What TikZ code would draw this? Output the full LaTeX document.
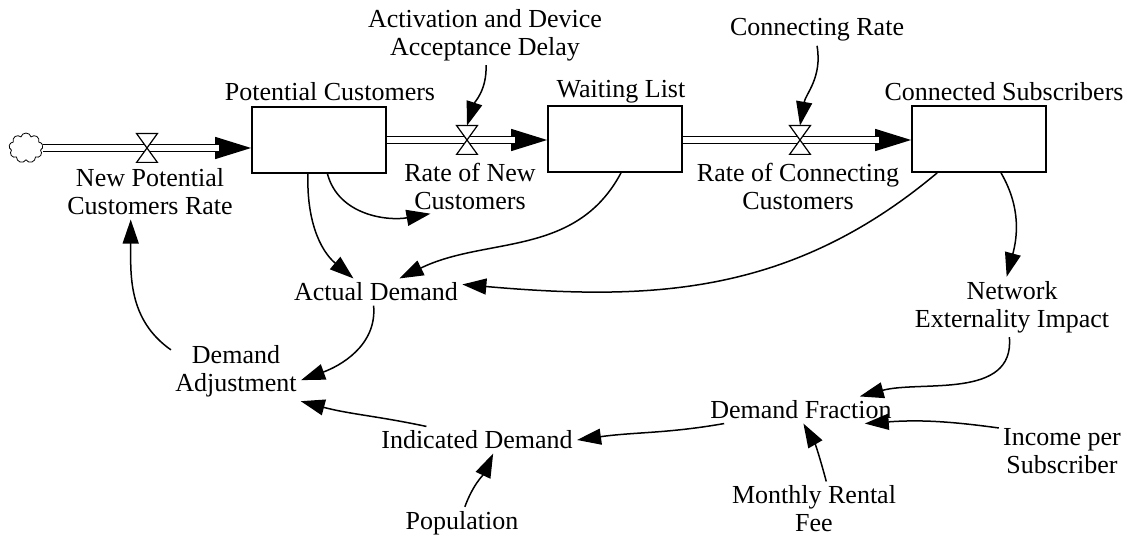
\documentclass[tikz,border=0pt]{standalone}
\usepackage{fontspec}
\setmainfont{Liberation Serif}
\usetikzlibrary{arrows.meta,shapes.symbols}
\begin{document}
\begin{tikzpicture}[x=0.5pt,y=0.5pt,
 lbl/.style={font=\fontsize{13}{14}\selectfont, align=center, inner sep=2pt},
 stock/.style={draw, line width=0.9pt, minimum width=67pt, minimum height=33pt, inner sep=0pt},
 valvenode/.style={minimum width=10pt, minimum height=14pt, inner sep=0pt},
 valveshape/.style={draw, fill=white, line width=0.6pt},
 pipe/.style={draw, line width=0.7pt, double=white, double distance=2.6pt},
 flowtip/.style={line width=0.7pt, -{Triangle[length=18pt,width=11pt]}},
 link/.style={line width=0.75pt, -{Triangle[length=12pt,width=8pt]}},
 cloudnode/.style={cloud, cloud puffs=9, aspect=1.15, draw, line width=0.4pt, minimum width=17pt, minimum height=15pt, inner sep=0pt}
]
\useasboundingbox (0,0) rectangle (1127,-544);

% stocks
\node[cloudnode] (src) at (26,-148) {};
\node[stock] (PC) at (319,-140) {};
\node[stock] (WL) at (615,-139) {};
\node[stock] (CS) at (979,-139) {};
\node[lbl] (PCl) at (330,-92) {Potential Customers};
\node[lbl] (WLl) at (621,-92) {Waiting List};
\node[lbl] (CSl) at (1004,-92) {Connected Subscribers};

% valves
\node[valvenode] (v1) at (147,-148) {};
\node[valvenode] (v2) at (467,-140) {};
\node[valvenode] (v3) at (800,-140) {};

% labels
\node[lbl] (NPCR) at (150,-192) {New Potential\\Customers Rate};
\node[lbl] (RNC) at (470,-186) {Rate of New\\Customers};
\node[lbl] (RCC) at (798,-186) {Rate of Connecting\\Customers};
\node[lbl] (ADelay) at (485,-35) {Activation and Device\\Acceptance Delay};
\node[lbl] (CRate) at (817,-30) {Connecting Rate};
\node[lbl] (AD) at (376,-292) {Actual Demand};
\node[lbl] (NEI) at (1012,-307) {Network\\Externality Impact};
\node[lbl] (DA) at (236,-371) {Demand\\Adjustment};
\node[lbl] (DF) at (801,-410) {Demand Fraction};
\node[lbl] (ID) at (477,-440) {Indicated Demand};
\node[lbl] (IPS) at (1062,-451) {Income per\\Subscriber};
\node[lbl] (MRF) at (814,-509) {Monthly Rental\\Fee};
\node[lbl] (Pop) at (462,-523) {Population};

% flows
\draw[flowtip] (src.east) -- (src.east -| PC.west);
\draw[pipe, shorten >=16pt] (src.east) -- (src.east -| PC.west);
\draw[flowtip] (PC.east |- v2) -- (WL.west |- v2);
\draw[pipe, shorten >=16pt] (PC.east |- v2) -- (WL.west |- v2);
\draw[flowtip] (WL.east |- v3) -- (CS.west |- v3);
\draw[pipe, shorten >=16pt] (WL.east |- v3) -- (CS.west |- v3);
\foreach \v in {v1,v2,v3}
  \draw[valveshape] (\v.north west) -- (\v.north east) -- (\v.south west) -- (\v.south east) -- cycle;

% links
\draw[link] (ADelay.-88) to[out=-88,in=72] (v2.north);
\draw[link] (CRate.south) to[out=-80,in=80] (v3.north);
\draw[link] (PC.-76) to[out=-75,in=190] (RNC.215);
\draw[link] (PC.-108) to[out=-92,in=140] (AD.149);
\draw[link] (WL.-80) to[out=-118,in=26] (AD.30);
\draw[link] (CS.219) to[out=-140,in=-5] (AD.5);
\draw[link] (CS.-57) to[out=-60,in=75] (NEI.100);
\draw[link] (NEI.-95) to[out=-85,in=15] (DF.13);
\draw[link] (AD.-100) to[out=-85,in=20] (DA.-8);
\draw[link] (DA.162) to[out=145,in=-90] (NPCR.-125);
\draw[link] (ID.165) to[out=168,in=-15] (DA.-25);
\draw[link] (DF.190) to[out=190,in=8] (ID.east);
\draw[link] (MRF.66) to[out=105,in=-60] (DF.-80);
\draw[link] (IPS.160) to[bend right=6] (DF.-12);
\draw[link] (Pop.80) to[out=70,in=-115] (ID.-40);
\end{tikzpicture}
\end{document}
